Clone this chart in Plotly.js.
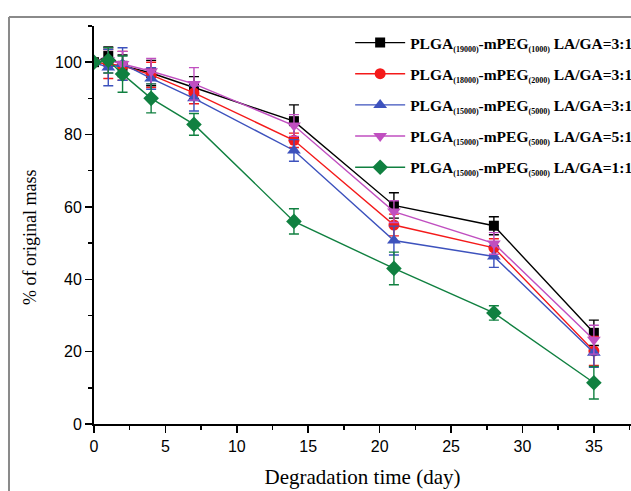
<!DOCTYPE html>
<html>
<head>
<meta charset="utf-8">
<script src="https://cdn.plot.ly/plotly-3.0.1.min.js"></script>
<style>html,body{margin:0;padding:0;background:#fff;}#chart{width:631px;height:491px;}</style>
</head>
<body>
<div id="chart"></div>
<script>
const days = [0, 1, 2, 4, 7, 14, 21, 28, 35];

const sub = s => "<sub><span style='font-size:8px'>" + s + "</span></sub>";
const names = [
  "PLGA" + sub("(19000)") + "-mPEG" + sub("(1000)") + " LA/GA=3:1",
  "PLGA" + sub("(18000)") + "-mPEG" + sub("(2000)") + " LA/GA=3:1",
  "PLGA" + sub("(15000)") + "-mPEG" + sub("(5000)") + " LA/GA=3:1",
  "PLGA" + sub("(15000)") + "-mPEG" + sub("(5000)") + " LA/GA=5:1",
  "PLGA" + sub("(15000)") + "-mPEG" + sub("(5000)") + " LA/GA=1:1"
];

const mass19k1k_31 = [100, 101.7, 99.0, 97.0, 93.0, 83.7, 60.4, 54.8, 25.2];
const mass18k2k_31 = [100, 99.5, 99.0, 96.5, 91.5, 78.4, 55.0, 48.7, 20.2];
const mass15k5k_31 = [100, 98.5, 99.5, 95.5, 90.0, 75.6, 50.7, 46.3, 19.7];
const mass15k5k_51 = [100, 100.5, 99.5, 97.5, 94.0, 82.5, 58.7, 49.9, 23.3];
const mass15k5k_11 = [100, 100.5, 96.7, 90.0, 82.8, 56.0, 43.0, 30.7, 11.4];

const err19k1k_31 = [0, 2.5, 3.0, 3.5, 3.0, 4.5, 3.5, 2.5, 3.5];
const err18k2k_31 = [0, 4.0, 4.0, 3.5, 3.0, 2.0, 3.0, 2.5, 4.0];
const err15k5k_31 = [0, 5.0, 4.5, 3.0, 3.5, 3.0, 4.0, 3.0, 4.0];
const err15k5k_51 = [0, 3.5, 3.5, 3.5, 4.5, 3.0, 3.0, 3.0, 4.0];
const err15k5k_11 = [0, 3.5, 5.0, 4.0, 3.0, 3.5, 4.5, 2.0, 4.5];

const series = [mass19k1k_31, mass18k2k_31, mass15k5k_31, mass15k5k_51, mass15k5k_11];
const errors = [err19k1k_31, err18k2k_31, err15k5k_31, err15k5k_51, err15k5k_11];
const colors = ["#000000", "#f41a1a", "#3d52bd", "#c04fc0", "#108040"];
const symbols = ["square", "circle", "triangle-up", "triangle-down", "diamond"];
const sizes = [10, 11, 12, 12, 12];

const traces = series.map((ys, i) => ({
  x: days,
  y: ys,
  name: names[i],
  legendgroup: "g" + i,
  type: "scatter",
  mode: "lines+markers",
  line: {color: colors[i], width: 1.4},
  marker: {color: colors[i], symbol: symbols[i], size: sizes[i]},
  error_y: {type: "data", array: errors[i], visible: true, color: colors[i], thickness: 1.4, width: 5}
}));

const layout = {
  width: 631, height: 491,
  margin: {l: 94, r: 0, t: 26, b: 67, autoexpand: false},
  paper_bgcolor: "#fff", plot_bgcolor: "#fff",
  showlegend: true,
  legend: {
    x: 0.477, y: 1.0, xanchor: "left", yanchor: "top",
    font: {family: "Liberation Serif, Times New Roman, serif", size: 15.5, color: "#000", weight: "bold"},
    bgcolor: "rgba(0,0,0,0)", itemwidth: 50, tracegroupgap: 8
  },
  xaxis: {
    range: [0, 37.6], showgrid: false, zeroline: false,
    showline: true, linecolor: "#000", linewidth: 2,
    ticks: "outside", ticklen: 7, tickwidth: 1.5, tickcolor: "#000",
    tickvals: [0, 5, 10, 15, 20, 25, 30, 35],
    minor: {ticks: "outside", ticklen: 4, tickwidth: 1.5, tickcolor: "#000", dtick: 2.5},
    tickfont: {family: "Liberation Sans, Arial, sans-serif", size: 16, color: "#000"},
    title: {text: "Degradation time (day)", font: {family: "Liberation Serif, Times New Roman, serif", size: 21, color: "#000"}, standoff: 15}
  },
  yaxis: {
    range: [0, 110], showgrid: false, zeroline: false,
    showline: true, linecolor: "#000", linewidth: 2,
    ticks: "outside", ticklen: 7, tickwidth: 1.5, tickcolor: "#000",
    tickvals: [0, 20, 40, 60, 80, 100],
    minor: {ticks: "outside", ticklen: 4, tickwidth: 1.5, tickcolor: "#000", dtick: 10},
    tickfont: {family: "Liberation Sans, Arial, sans-serif", size: 16, color: "#000"}
  },
  annotations: [
    {text: "% of original mass", xref: "paper", yref: "paper",
     x: (30 - 94) / 537, y: (424 - 238) / 398, xanchor: "center", yanchor: "middle",
     textangle: -90, showarrow: false,
     font: {family: "Liberation Serif, Times New Roman, serif", size: 18, color: "#000"}}
  ],
  shapes: [
    {type: "line", xref: "paper", yref: "paper", x0: -0.1583, x1: -0.1583, y0: 1.0226, y1: -0.17, line: {color: "#8a8a8a", width: 2}},
    {type: "line", xref: "paper", yref: "paper", x0: -0.1583, x1: 1.0, y0: 1.0226, y1: 1.0226, line: {color: "#8a8a8a", width: 2}}
  ]
};

Plotly.newPlot("chart", traces, layout, {displayModeBar: false, staticPlot: true});
</script>
</body>
</html>
